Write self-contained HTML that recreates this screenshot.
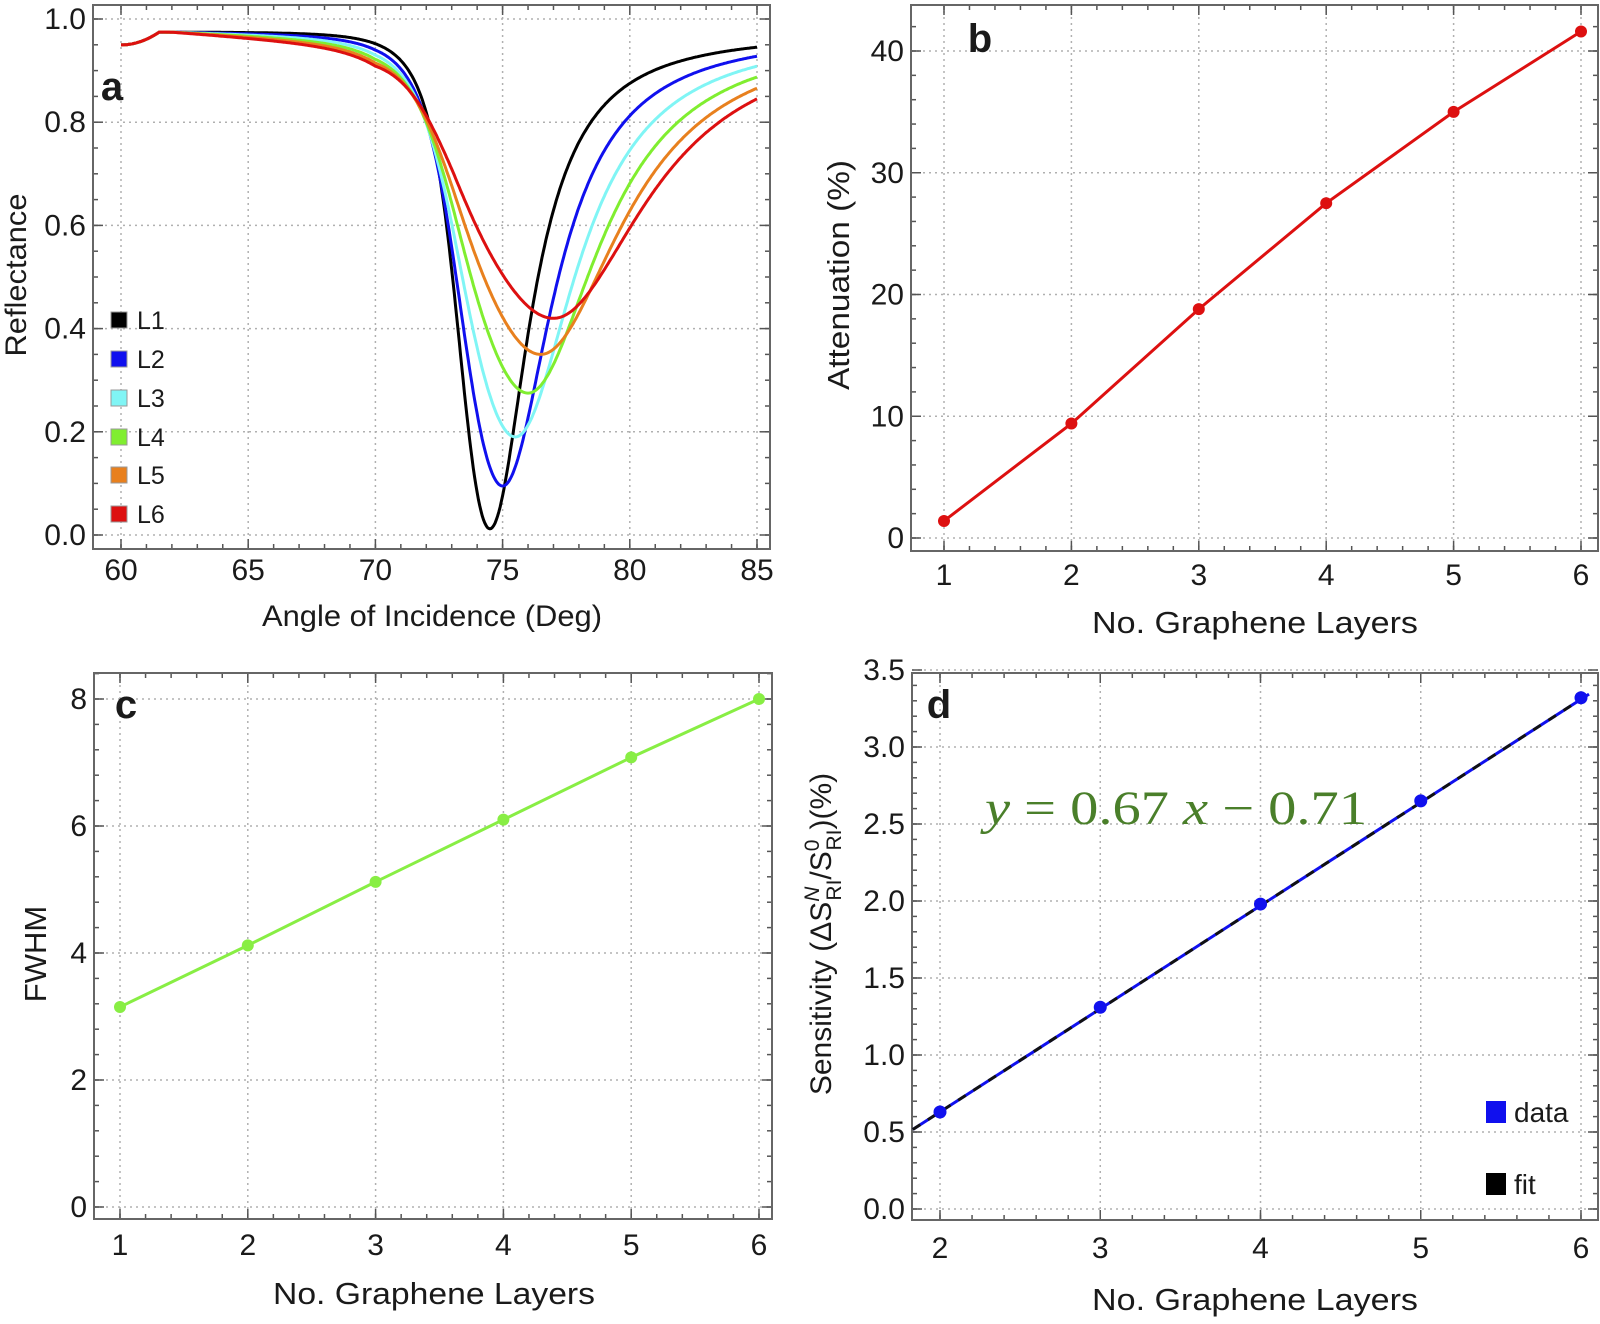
<!DOCTYPE html>
<html><head><meta charset="utf-8">
<style>
html,body{margin:0;padding:0;background:#fff;}
svg{display:block;}
text{font-family:"Liberation Sans",Arial,sans-serif;fill:#1a1a1a;}
</style></head>
<body>
<svg id="s" xmlns="http://www.w3.org/2000/svg" width="1600" height="1324" viewBox="0 0 1600 1324"></svg>
<script>
const S=document.getElementById('s');
let out='';
function mk(l,r,t,b,x0,x1,px0,px1,y0,y1,py0,py1){
  return {l,r,t,b,X:v=>px0+(v-x0)*(px1-px0)/(x1-x0),Y:v=>py0+(v-y0)*(py1-py0)/(y1-y0)};
}
function axes(P,xmaj,xmin,ymaj,ymin,xfmt,yfmt,xlY){
  xmaj.forEach(v=>{const x=P.X(v);out+=`<line x1="${x}" y1="${P.t}" x2="${x}" y2="${P.b}" stroke="#b0b0b0" stroke-width="1.5" stroke-dasharray="2,4"/>`;});
  ymaj.forEach(v=>{const y=P.Y(v);out+=`<line x1="${P.l}" y1="${y}" x2="${P.r}" y2="${y}" stroke="#b0b0b0" stroke-width="1.5" stroke-dasharray="2,4"/>`;});
  const tk=(x1,y1,x2,y2)=>{out+=`<line x1="${x1}" y1="${y1}" x2="${x2}" y2="${y2}" stroke="#555" stroke-width="1.5"/>`;};
  xmin.forEach(v=>{const x=P.X(v);if(x<=P.l||x>=P.r)return;tk(x,P.b,x,P.b-5);tk(x,P.t,x,P.t+5);});
  xmaj.forEach(v=>{const x=P.X(v);tk(x,P.b,x,P.b-10);tk(x,P.t,x,P.t+10);});
  ymin.forEach(v=>{const y=P.Y(v);if(y<=P.t||y>=P.b)return;tk(P.l,y,P.l+5,y);tk(P.r,y,P.r-5,y);});
  ymaj.forEach(v=>{const y=P.Y(v);tk(P.l,y,P.l+10,y);tk(P.r,y,P.r-10,y);});
  out+=`<rect x="${P.l}" y="${P.t}" width="${P.r-P.l}" height="${P.b-P.t}" fill="none" stroke="#666" stroke-width="2"/>`;
  xmaj.forEach(v=>{out+=`<text x="${P.X(v)}" y="${xlY}" font-size="30" text-anchor="middle">${xfmt(v)}</text>`;});
  ymaj.forEach(v=>{out+=`<text x="${P.l-7}" y="${P.Y(v)+10}" font-size="30" text-anchor="end">${yfmt(v)}</text>`;});
}
function rng(a,b,s){const r=[];for(let v=a;v<=b+1e-9;v+=s)r.push(+v.toFixed(6));return r;}
const cl=(v,a,b)=>Math.max(a,Math.min(b,v));

// Panel a
const A=mk(93,770,5,549,60,85,121,757,0,1,535,19);
axes(A,rng(60,85,5),rng(60,85,1),rng(0,1,0.2),rng(0,1,0.05),v=>v,v=>v.toFixed(1),580);
const cols=['#000000','#1010ee','#80f5f5','#80ee30','#e8801e','#dd1010'];
const mins=[[74.5,0.012],[75.0,0.095],[75.5,0.19],[76.0,0.275],[76.5,0.35],[77.0,0.42]];
for(let k=0;k<6;k++){
  const [t0,rm]=mins[k];const D=1-rm/0.975;
  const wL=1.85+k*(4.8-1.85)/5, sL=1.85+k*(4.67-1.85)/5, p=4+k*(6-4)/5, wR=1.87+k*(4.42-1.87)/5;
  let d='';
  for(let th=60;th<=85.0001;th+=0.05){
    let B=th<61.5?0.95+0.025*Math.pow((th-60)/1.5,2):0.975;
    const ramp=th<=70?cl((th-62)/8,0,1):cl((73-th)/3,0,1);
    B*=1-0.006*k*ramp;
    const dd=th-t0;
    const g=dd<0?1/(1+Math.pow(-dd/wL,2)+Math.pow(-dd/sL,p)):1/(1+Math.pow(dd/wR,2));
    const R=B*(1-D*g);
    d+=(d?'L':'M')+A.X(th).toFixed(1)+','+A.Y(R).toFixed(1);
  }
  out+=`<path d="${d}" fill="none" stroke="${cols[k]}" stroke-width="3"/>`;
}
out+=`<text x="112" y="100" font-size="40" font-weight="bold" text-anchor="middle">a</text>`;
const ly=[320,359,398,437,475,514];
ly.forEach((y,i)=>{out+=`<rect x="111" y="${y-8}" width="16" height="16" fill="${cols[i]}" stroke="#999" stroke-width="1"/><text x="137" y="${y+9}" font-size="25">L${i+1}</text>`;});
out+=`<text x="432" y="626" font-size="30" text-anchor="middle" textLength="340" lengthAdjust="spacingAndGlyphs">Angle of Incidence (Deg)</text>`;
out+=`<text transform="translate(26,275) rotate(-90)" font-size="30" text-anchor="middle" textLength="163" lengthAdjust="spacingAndGlyphs">Reflectance</text>`;

// Panel b
const B=mk(911,1598,5,551,1,6,944,1581,0,40,538,51);
axes(B,rng(1,6,1),rng(1,6,0.2),rng(0,40,10),rng(0,42,2),v=>v,v=>v,585);
const bd=[1.4,9.4,18.8,27.5,35,41.6];
out+=`<polyline points="${bd.map((v,i)=>B.X(i+1)+','+B.Y(v)).join(' ')}" fill="none" stroke="#dd1010" stroke-width="3"/>`;
bd.forEach((v,i)=>{out+=`<circle cx="${B.X(i+1)}" cy="${B.Y(v)}" r="6" fill="#dd1010"/>`;});
out+=`<text x="980" y="52" font-size="40" font-weight="bold" text-anchor="middle">b</text>`;
out+=`<text x="1255" y="633" font-size="31" text-anchor="middle" textLength="326" lengthAdjust="spacingAndGlyphs">No. Graphene Layers</text>`;
out+=`<text transform="translate(849,275) rotate(-90)" font-size="31" text-anchor="middle" textLength="230" lengthAdjust="spacingAndGlyphs">Attenuation (%)</text>`;

// Panel c
const C=mk(94,772,673,1219,1,6,120,759,0,8,1207,699);
axes(C,rng(1,6,1),rng(1,6,0.2),rng(0,8,2),rng(0,8.4,0.4),v=>v,v=>v,1255);
const cd=[3.15,4.12,5.12,6.1,7.08,8.0];
out+=`<polyline points="${cd.map((v,i)=>C.X(i+1)+','+C.Y(v)).join(' ')}" fill="none" stroke="#88ee44" stroke-width="3"/>`;
cd.forEach((v,i)=>{out+=`<circle cx="${C.X(i+1)}" cy="${C.Y(v)}" r="6" fill="#88ee44"/>`;});
out+=`<text x="126" y="718" font-size="40" font-weight="bold" text-anchor="middle">c</text>`;
out+=`<text x="434" y="1304" font-size="31" text-anchor="middle" textLength="322" lengthAdjust="spacingAndGlyphs">No. Graphene Layers</text>`;
out+=`<text transform="translate(46,954) rotate(-90)" font-size="31" text-anchor="middle">FWHM</text>`;

// Panel d
const Dp=mk(912,1598,673,1220,2,6,940,1581,0,3.5,1209,670);
axes(Dp,rng(2,6,1),rng(1.8,6.2,0.2),rng(0,3.5,0.5),rng(0,3.5,0.1),v=>v,v=>v.toFixed(1),1258);
const f=x=>0.67*x-0.71;
const fx0=1.83,fx1=6.05;
out+=`<line x1="${Dp.X(fx0)}" y1="${Dp.Y(f(fx0))}" x2="${Dp.X(fx1)}" y2="${Dp.Y(f(fx1))}" stroke="#1010ee" stroke-width="3"/>`;
out+=`<line x1="${Dp.X(fx0)}" y1="${Dp.Y(f(fx0))}" x2="${Dp.X(fx1)}" y2="${Dp.Y(f(fx1))}" stroke="#111" stroke-width="3" stroke-dasharray="9,9"/>`;
const dd=[0.63,1.31,1.98,2.65,3.32];
dd.forEach((v,i)=>{out+=`<circle cx="${Dp.X(i+2)}" cy="${Dp.Y(v)}" r="6.5" fill="#1010ee"/>`;});
out+=`<text x="939" y="718" font-size="40" font-weight="bold" text-anchor="middle">d</text>`;
out+=`<text x="985" y="824" font-size="48" textLength="382" lengthAdjust="spacingAndGlyphs" style="fill:#4a7f2a;font-family:'Liberation Serif',serif"><tspan font-style="italic">y</tspan> = 0.67 <tspan font-style="italic">x</tspan> − 0.71</text>`;
out+=`<rect x="1486" y="1101" width="20" height="22" fill="#1010ee"/><text x="1514" y="1122" font-size="28">data</text>`;
out+=`<rect x="1486" y="1173" width="20" height="22" fill="#000"/><text x="1514" y="1194" font-size="28">fit</text>`;
out+=`<text x="1255" y="1310" font-size="31" text-anchor="middle" textLength="326" lengthAdjust="spacingAndGlyphs">No. Graphene Layers</text>`;
out+=`<text transform="translate(831,934) rotate(-90)" font-size="30" text-anchor="middle">Sensitivity (ΔS<tspan font-size="21" dy="-12" font-style="italic">N</tspan><tspan font-size="21" dx="-14" dy="22">RI</tspan><tspan dy="-10">/S</tspan><tspan font-size="21" dy="-12">0</tspan><tspan font-size="21" dx="-11" dy="22">RI</tspan><tspan dy="-10">)(%)</tspan></text>`;

S.innerHTML=out;
</script>
</body></html>
